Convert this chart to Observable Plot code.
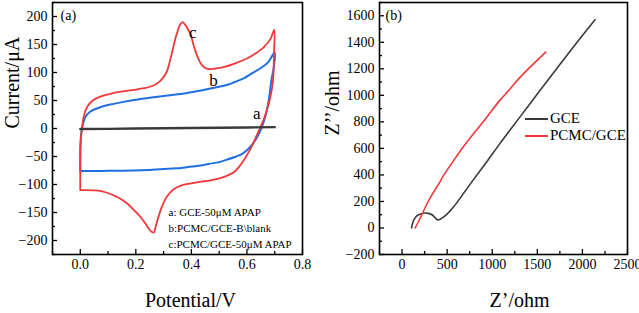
<!DOCTYPE html>
<html><head><meta charset="utf-8">
<script src="https://cdn.jsdelivr.net/npm/d3@7"></script>
<script src="https://cdn.jsdelivr.net/npm/@observablehq/plot@0.6"></script>
<style>
body{margin:0;background:#fff;}
#wrap{position:relative;width:639px;height:313px;display:flex;font-family:"Liberation Serif",serif;}
#wrap svg{display:block;font-family:"Liberation Serif",serif !important;}
#wrap svg text{font-family:"Liberation Serif",serif !important;}
.leg{position:absolute;left:525px;font-size:15px;line-height:15px;display:flex;align-items:center;white-space:nowrap;}
.leg span.sw{display:inline-block;width:23px;height:0;border-top:2px solid;margin-right:2px;}
</style></head><body><div id="wrap"></div>
<script>
// ---------- Panel (a): cyclic voltammetry, [Potential V, Current µA] ----------
const curveA = [[0,-1],[0.1,-0.6],[0.2,-0.1],[0.3,0.4],[0.4,0.9],[0.5,1.4],[0.6,1.9],[0.7,2.4]];
const curveB = [[0,-76],[0,-40],[0.003,-10],[0.008,5],[0.018,20],[0.035,30],[0.072,38],[0.12,44],[0.193,51],[0.25,55],[0.314,59],[0.38,63],[0.435,68],[0.495,74],[0.53,78],[0.556,83],[0.59,90],[0.616,98],[0.65,108],[0.676,118],[0.70,136],
  [0.697,110],[0.688,86],[0.68,55],[0.668,25],[0.652,0],[0.635,-17],[0.62,-28],[0.60,-39],[0.58,-46],[0.556,-51],[0.52,-57],[0.5,-60],[0.465,-63],[0.435,-66],[0.40,-68],[0.37,-70],[0.314,-72],[0.25,-74],[0.19,-75],[0.1,-75.5],[0.02,-76],[0,-76]];
const curveC = [[0,-110],[0,-60],[0.002,-20],[0.006,0],[0.012,20],[0.024,38],[0.045,50],[0.072,57],[0.1,61],[0.133,65],[0.165,67],[0.193,69],[0.23,72],[0.254,75],[0.275,80],[0.29,86],[0.31,100],[0.326,127],[0.345,165],[0.36,186],[0.368,190],[0.378,185],[0.39,175],[0.399,165],[0.41,145],[0.423,127],[0.435,115],[0.447,109],[0.465,106],[0.483,107],[0.52,110],[0.556,116],[0.6,125],[0.628,133],[0.66,145],[0.685,160],[0.698,176],
  [0.697,130],[0.694,86],[0.685,58],[0.67,30],[0.657,12],[0.646,0],[0.63,-18],[0.61,-39],[0.58,-63],[0.56,-75],[0.543,-81],[0.52,-86],[0.495,-90],[0.465,-93],[0.435,-95],[0.41,-97],[0.387,-99],[0.362,-102],[0.338,-108],[0.314,-120],[0.295,-138],[0.28,-160],[0.27,-178],[0.265,-186],[0.258,-185],[0.248,-180],[0.235,-170],[0.217,-158],[0.19,-144],[0.169,-134],[0.14,-124],[0.109,-117],[0.075,-112],[0.048,-110.5],[0.02,-110],[0,-110]];
const curveLabels = [{x:0.405,y:172,t:"c"},{x:0.48,y:86,t:"b"},{x:0.635,y:27,t:"a"}];
const legendA = ["a: GCE-50μM APAP","b:PCMC/GCE-B\\blank","c:PCMC/GCE-50μM APAP"];
const xTicksA = [0,0.2,0.4,0.6,0.8];
const xMinorA = [-0.1,0.1,0.3,0.5,0.7];
const yTicksA = [-200,-150,-100,-50,0,50,100,150,200];
const yMinorA = [-225,-175,-125,-75,-25,25,75,125,175,225];

// ---------- Panel (b): Nyquist plot, [Z' ohm, Z'' ohm] ----------
const gce = [[106,0],[115,30],[130,60],[160,90],[209,106],[250,113],[290,110],[337,98],[370,75],[392,62],[410,62],[440,72],[502,106],[560,150],[611,193],[700,278],[800,372],[940,500],[1087,638],[1300,830],[1500,1010],[1700,1188],[1900,1365],[2140,1570]];
const pcmc = [[146,0],[180,45],[209,85],[260,160],[318,235],[392,315],[464,400],[574,510],[680,612],[794,712],[900,800],[1000,890],[1087,964],[1200,1050],[1300,1130],[1400,1200],[1500,1265],[1592,1326]];
const seriesB = ["GCE","PCMC/GCE"];
const xTicksB = [0,500,1000,1500,2000,2500];
const xMinorB = [-250,250,750,1250,1750,2250];
const yTicksB = [-200,0,200,400,600,800,1000,1200,1400,1600];
const yMinorB = [-100,100,300,500,700,900,1100,1300,1500,1700];

const RED = "#f0383a", BLUE = "#1f6fe0", DARK = "#3a3a3a";
const FF = "Liberation Serif";
const fmt = d3.format("d");
const font = {fontFamily:FF, fontSize:"14px", color:"black", background:"white", overflow:"visible"};

function axes(xT, xM, yT, yM, xf, yf){
  return [
    Plot.axisX(xT, {tickSize:-5, tickPadding:10, tickFormat:xf, label:null, strokeWidth:1.3, fontSize:14, fontFamily:FF}),
    Plot.axisX(xM, {tickSize:-3, tickFormat:()=>"", label:null, strokeWidth:1.3}),
    Plot.axisY(yT, {tickSize:-5, tickPadding:10, tickFormat:yf, label:null, strokeWidth:1.3, fontSize:14, fontFamily:FF}),
    Plot.axisY(yM, {tickSize:-3, tickFormat:()=>"", label:null, strokeWidth:1.3}),
    Plot.frame({stroke:"black", strokeWidth:1.6})
  ];
}

const left = Plot.plot({
  width:320, height:313, marginLeft:52, marginRight:18, marginTop:2, marginBottom:59,
  style:font,
  x:{domain:[-0.1,0.8]}, y:{domain:[-225,225]},
  marks:[
    Plot.line(curveB, {x:d=>d[0], y:d=>d[1], stroke:BLUE, strokeWidth:2, curve:"catmull-rom"}),
    Plot.line(curveC, {x:d=>d[0], y:d=>d[1], stroke:RED, strokeWidth:1.8, curve:"catmull-rom"}),
    Plot.line(curveA, {x:d=>d[0], y:d=>d[1], stroke:DARK, strokeWidth:2.4}),
    Plot.text(curveLabels, {x:"x", y:"y", text:"t", fontSize:17, fontFamily:FF, fill:"black"}),
    Plot.text([legendA.join("\n")], {frameAnchor:"top-left", textAnchor:"start", lineAnchor:"top", dx:116, dy:202, fontSize:11, fontFamily:FF, lineHeight:1.45, fill:"black"}),
    Plot.text(["(a)"], {frameAnchor:"top-left", textAnchor:"start", lineAnchor:"top", dx:8, dy:8, fontSize:14, fontFamily:FF, fill:"black"}),
    Plot.text(["Current/μA"], {frameAnchor:"left", rotate:-90, dx:-40, fontSize:20, fontFamily:FF, fill:"black"}),
    Plot.text(["Potential/V"], {frameAnchor:"bottom", dx:13, dy:52, fontSize:20, fontFamily:FF, fill:"black"}),
    ...axes(xTicksA, xMinorA, yTicksA, yMinorA, d3.format(".1f"), fmt)
  ]
});

const right = Plot.plot({
  width:319, height:313, marginLeft:59, marginRight:12, marginTop:2, marginBottom:59,
  style:font,
  x:{domain:[-250,2500]}, y:{domain:[-200,1700]},
  marks:[
    Plot.line(gce, {x:d=>d[0], y:d=>d[1], stroke:DARK, strokeWidth:1.6, curve:"catmull-rom"}),
    Plot.line(pcmc, {x:d=>d[0], y:d=>d[1], stroke:RED, strokeWidth:1.6, curve:"catmull-rom"}),
    Plot.text(["(b)"], {frameAnchor:"top-left", textAnchor:"start", lineAnchor:"top", dx:6, dy:8, fontSize:14, fontFamily:FF, fill:"black"}),
    Plot.text(["Z’’/ohm"], {frameAnchor:"left", rotate:-90, dx:-47, dy:7, fontSize:20, fontFamily:FF, fill:"black"}),
    Plot.text(["Z’/ohm"], {frameAnchor:"bottom", dx:16, dy:52, fontSize:20, fontFamily:FF, fill:"black"}),
    ...axes(xTicksB, xMinorB, yTicksB, yMinorB, fmt, fmt)
  ]
});

const wrap = document.getElementById("wrap");
wrap.append(left, right);
[[seriesB[0], DARK, 111],[seriesB[1], RED, 128]].forEach(([name,col,top])=>{
  const d = document.createElement("div");
  d.className = "leg"; d.style.top = top + "px";
  d.innerHTML = `<span class="sw" style="border-color:${col}"></span><span>${name}</span>`;
  wrap.append(d);
});
</script>
</body></html>
